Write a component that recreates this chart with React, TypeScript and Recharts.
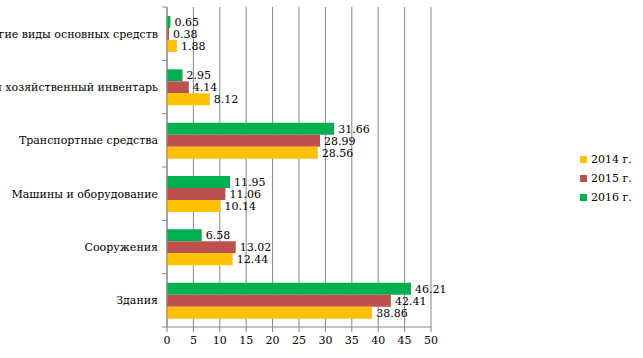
import React from "react";
import { BarChart, Bar, XAxis, YAxis, CartesianGrid, LabelList } from "recharts";

const categories = [
  "Другие виды основных средств",
  "Производственный и хозяйственный инвентарь",
  "Транспортные средства",
  "Машины и оборудование",
  "Сооружения",
  "Здания",
];
const values2014 = [1.88, 8.12, 28.56, 10.14, 12.44, 38.86];
const values2015 = [0.38, 4.14, 28.99, 11.06, 13.02, 42.41];
const values2016 = [0.65, 2.95, 31.66, 11.95, 6.58, 46.21];
const xTicks = [0, 5, 10, 15, 20, 25, 30, 35, 40, 45, 50];

const series = [
  { key: "y2014", name: "2014 г.", color: "#FFC000" },
  { key: "y2015", name: "2015 г.", color: "#C0504D" },
  { key: "y2016", name: "2016 г.", color: "#00B050" },
];

const data = categories.map((name, i) => ({
  name,
  y2014: values2014[i],
  y2015: values2015[i],
  y2016: values2016[i],
}));

const FONT = "DejaVu Serif";
const FS = 11;
const GRAY = "#868686";

const CategoryTick = (props: any) => {
  const { x, y, payload, index, visibleTicksCount } = props;
  const axisX = x + 9;
  const off = payload.offset || 0;
  return (
    <g>
      <line x1={axisX - 5} x2={axisX} y1={y - off} y2={y - off} stroke={GRAY} />
      {index === visibleTicksCount - 1 ? (
        <line x1={axisX - 5} x2={axisX} y1={y + off} y2={y + off} stroke={GRAY} />
      ) : null}
      <text x={x} y={y} dy="0.35em" textAnchor="end" fontSize={FS} fill="#000" fontFamily={FONT}>
        {payload.value}
      </text>
    </g>
  );
};

export default function App() {
  const barOrder = [...series].reverse();
  return (
    <div style={{ position: "absolute", left: 0, top: 0, width: 643, height: 358, background: "#fff" }}>
      <BarChart
        width={643}
        height={358}
        data={data}
        layout="vertical"
        margin={{ top: 7, right: 212, bottom: 1, left: 0 }}
        barGap={0}
        barSize={12}
      >
        <CartesianGrid horizontal={false} vertical={true} stroke={GRAY} />
        <XAxis
          type="number"
          domain={[0, 50]}
          ticks={xTicks}
          interval={0}
          height={30}
          stroke={GRAY}
          tickSize={5}
          tickMargin={4}
          tick={{ fontSize: FS, fill: "#000", fontFamily: FONT }}
        />
        <YAxis
          type="category"
          dataKey="name"
          width={167}
          stroke={GRAY}
          tickLine={false}
          tickSize={5}
          tickMargin={4}
          interval={0}
          tick={<CategoryTick />}
        />
        {barOrder.map((s) => (
          <Bar key={s.key} dataKey={s.key} name={s.name} fill={s.color} isAnimationActive={false}>
            <LabelList
              dataKey={s.key}
              position="right"
              offset={4}
              style={{ fontSize: FS, fill: "#000", fontFamily: FONT }}
            />
          </Bar>
        ))}
      </BarChart>
      <div style={{ position: "absolute", left: 580, top: 150, fontFamily: FONT, fontSize: FS }}>
        {series.map((s) => (
          <div key={s.key} style={{ display: "flex", alignItems: "center", height: 19 }}>
            <span style={{ display: "inline-block", width: 7, height: 7, background: s.color, marginRight: 4 }} />
            <span>{s.name}</span>
          </div>
        ))}
      </div>
    </div>
  );
}
